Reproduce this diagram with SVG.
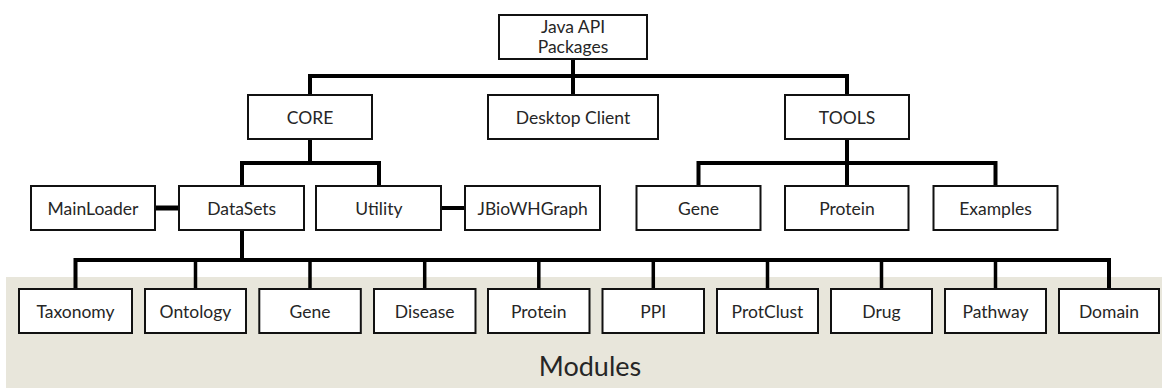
<svg xmlns="http://www.w3.org/2000/svg" width="1162" height="388" viewBox="0 0 1162 388">
<style>
.box{fill:#fff;stroke:#111;stroke-width:2}
.lbl{font-family:Lato,"Liberation Sans",sans-serif;font-size:17.5px;fill:#262626;text-anchor:middle}
.big{font-family:Lato,"Liberation Sans",sans-serif;font-size:27px;fill:#262626;text-anchor:middle}
.con{fill:none;stroke:#000;stroke-width:4;stroke-linejoin:miter}
.drop{fill:none;stroke:#000;stroke-width:3.5}
</style>
<rect x="6" y="277" width="1156" height="111" fill="#E8E6DB"/>
<text class="big" x="590" y="376">Modules</text>
<g id="connectors">
<path class="con" d="M573 60 V94"/>
<path class="con" d="M310 94 V76 H847 V94"/>
<path class="con" d="M310 140 V163"/>
<path class="con" d="M242 185 V163 H379 V185"/>
<path class="con" d="M847 140 V185"/>
<path class="con" d="M698.5 185 V163 H995.5 V185"/>
<path class="con" d="M156 208 H178" style="stroke-width:5"/>
<path class="con" d="M442 208 H464"/>
<path class="con" d="M242 231 V260"/>
<path class="con" d="M75.5 288 V260 H1109 V288"/>
<path class="drop" d="M195.5 260 V288 M310 260 V288 M424.7 260 V288 M538.8 260 V288 M653.3 260 V288 M767.5 260 V288 M881.5 260 V288 M995.5 260 V288"/>
</g>
<g id="java"><rect class="box" x="499" y="15" width="148" height="44"/><text class="lbl" x="573" y="32.5">Java API</text><text class="lbl" x="573" y="53">Packages</text></g>
<g id="core"><rect class="box" x="248" y="95" width="124" height="44"/><text class="lbl" x="310" y="123.5">CORE</text></g>
<g id="desktop"><rect class="box" x="488" y="95" width="170" height="44"/><text class="lbl" x="573" y="123.5">Desktop Client</text></g>
<g id="tools"><rect class="box" x="785" y="95" width="124" height="44"/><text class="lbl" x="847" y="123.5">TOOLS</text></g>
<g id="mainloader"><rect class="box" x="31" y="186" width="124" height="44"/><text class="lbl" x="93" y="214.5">MainLoader</text></g>
<g id="datasets"><rect class="box" x="179" y="186" width="125" height="44"/><text class="lbl" x="241.7" y="214.5">DataSets</text></g>
<g id="utility"><rect class="box" x="316" y="186" width="125" height="44"/><text class="lbl" x="378.9" y="214.5">Utility</text></g>
<g id="jbiowhgraph"><rect class="box" x="465" y="186" width="135" height="44"/><text class="lbl" x="532.7" y="214.5">JBioWHGraph</text></g>
<g id="tools-gene"><rect class="box" x="636.5" y="186" width="124" height="44"/><text class="lbl" x="698.5" y="214.5">Gene</text></g>
<g id="tools-protein"><rect class="box" x="785" y="186" width="123.5" height="44"/><text class="lbl" x="847" y="214.5">Protein</text></g>
<g id="examples"><rect class="box" x="933.5" y="186" width="124" height="44"/><text class="lbl" x="995.5" y="214.5">Examples</text></g>
<g id="taxonomy"><rect class="box" x="19" y="289" width="113" height="44"/><text class="lbl" x="75.5" y="318">Taxonomy</text></g>
<g id="ontology"><rect class="box" x="145" y="289" width="101" height="44"/><text class="lbl" x="195.5" y="318">Ontology</text></g>
<g id="gene"><rect class="box" x="259.3" y="289" width="101.5" height="44"/><text class="lbl" x="310" y="318">Gene</text></g>
<g id="disease"><rect class="box" x="374" y="289" width="101.5" height="44"/><text class="lbl" x="424.7" y="318">Disease</text></g>
<g id="protein"><rect class="box" x="488" y="289" width="101.5" height="44"/><text class="lbl" x="538.8" y="318">Protein</text></g>
<g id="ppi"><rect class="box" x="602.5" y="289" width="101.5" height="44"/><text class="lbl" x="653.3" y="318">PPI</text></g>
<g id="protclust"><rect class="box" x="717" y="289" width="101" height="44"/><text class="lbl" x="767.5" y="318">ProtClust</text></g>
<g id="drug"><rect class="box" x="831" y="289" width="101" height="44"/><text class="lbl" x="881.5" y="318">Drug</text></g>
<g id="pathway"><rect class="box" x="945" y="289" width="101" height="44"/><text class="lbl" x="995.5" y="318">Pathway</text></g>
<g id="domain"><rect class="box" x="1059" y="289" width="100" height="44"/><text class="lbl" x="1109" y="318">Domain</text></g>
</svg>
